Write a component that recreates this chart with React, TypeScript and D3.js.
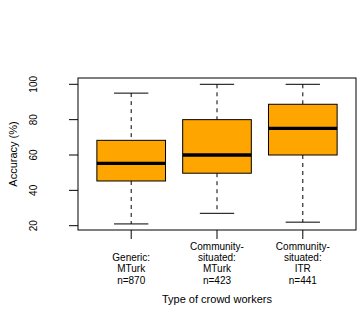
import React from "react";
import * as d3 from "d3";

const categories: string[][] = [
  ["Generic:", "MTurk", "n=870"],
  ["Community-", "situated:", "MTurk", "n=423"],
  ["Community-", "situated:", "ITR", "n=441"],
];
const whiskerLow = [21, 27, 22];
const q1 = [45.3, 49.7, 60];
const medians = [55.3, 60, 75.1];
const q3 = [68.3, 80, 88.7];
const whiskerHigh = [95, 100, 100];
const yTicks = [20, 40, 60, 80, 100];
const xLabel = "Type of crowd workers";
const yLabel = "Accuracy (%)";

export default function App() {
  const W = 363, H = 328;
  const left = 78, right = 356, top = 78, bottom = 230;
  const x = d3.scaleLinear().domain([0.38, 3.62]).range([left, right]);
  const y = d3.scaleLinear().domain([20, 100]).range([225.7, 84.3]);
  const boxW = x(0.8) - x(0);
  const capW = boxW / 2;
  const font = "Liberation Sans, Arial, sans-serif";
  const lastLineY = 281;
  const lineH = 11.2;
  return (
    <svg width={W} height={H} style={{ position: "absolute", left: 0, top: 0, background: "#fff" }}>
      <rect x={0} y={0} width={W} height={H} fill="#fff" />
      {categories.map((c, i) => {
        const cx = x(i + 1);
        return (
          <g key={i}>
            <line x1={cx} x2={cx} y1={y(whiskerHigh[i])} y2={y(q3[i])} stroke="#000" strokeDasharray="4,4" />
            <line x1={cx} x2={cx} y1={y(q1[i])} y2={y(whiskerLow[i])} stroke="#000" strokeDasharray="4,4" />
            <line x1={cx - capW / 2} x2={cx + capW / 2} y1={y(whiskerHigh[i])} y2={y(whiskerHigh[i])} stroke="#000" />
            <line x1={cx - capW / 2} x2={cx + capW / 2} y1={y(whiskerLow[i])} y2={y(whiskerLow[i])} stroke="#000" />
            <rect x={cx - boxW / 2} y={y(q3[i])} width={boxW} height={y(q1[i]) - y(q3[i])} fill="#FFA500" stroke="#000" />
            <line x1={cx - boxW / 2} x2={cx + boxW / 2} y1={y(medians[i])} y2={y(medians[i])} stroke="#000" strokeWidth={3.3} />
            <line x1={cx} x2={cx} y1={bottom} y2={bottom + 9} stroke="#000" />
            {c.map((t, j) => (
              <text key={j} x={cx} y={lastLineY - (c.length - 1 - j) * lineH} textAnchor="middle" fontSize={10} fontFamily={font} dominantBaseline="middle">
                {t}
              </text>
            ))}
          </g>
        );
      })}
      <rect x={left} y={top} width={right - left} height={bottom - top} fill="none" stroke="#000" />
      {yTicks.map((t) => (
        <g key={t}>
          <line x1={69} x2={left} y1={y(t)} y2={y(t)} stroke="#000" />
          <text transform={`translate(34,${y(t)}) rotate(-90)`} textAnchor="middle" dominantBaseline="middle" fontSize={10} fontFamily={font}>
            {t}
          </text>
        </g>
      ))}
      <text transform={`translate(14,154) rotate(-90)`} textAnchor="middle" dominantBaseline="middle" fontSize={11} fontFamily={font}>
        {yLabel}
      </text>
      <text x={x(2)} y={300} textAnchor="middle" dominantBaseline="middle" fontSize={11} fontFamily={font}>
        {xLabel}
      </text>
    </svg>
  );
}
